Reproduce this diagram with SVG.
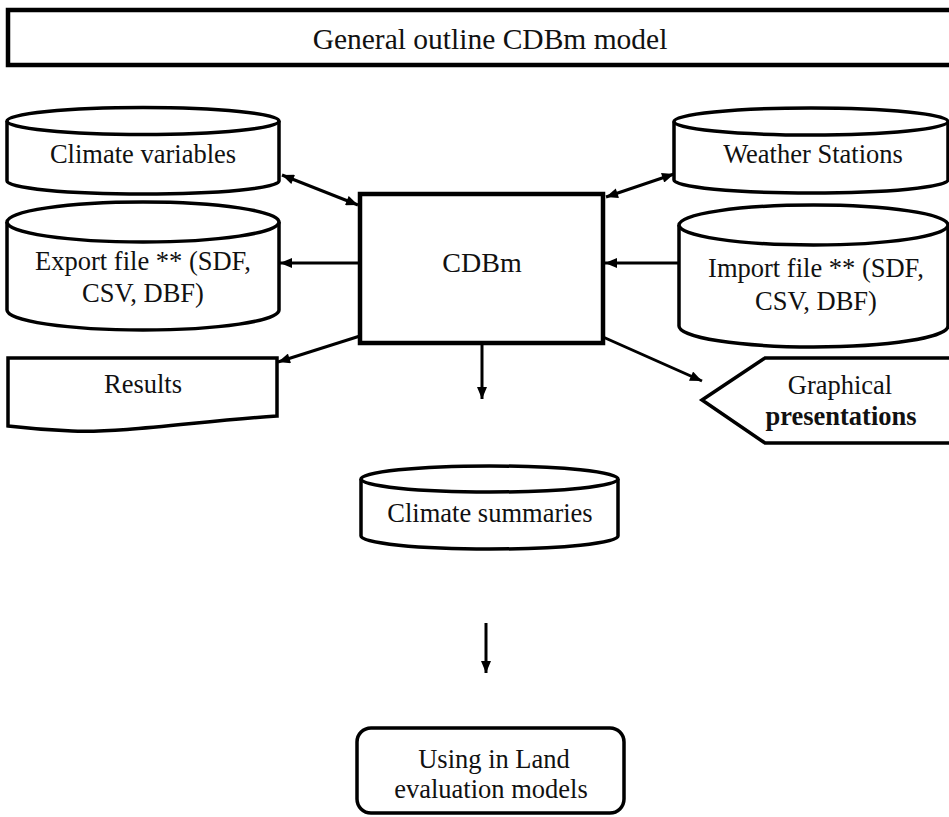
<svg xmlns="http://www.w3.org/2000/svg" width="949" height="817" viewBox="0 0 949 817">
<defs>
<style>
.shape{fill:#fff;stroke:#000;stroke-width:3.5;stroke-linejoin:miter}
.thick{stroke-width:4.5}
.lbl{font-family:"Liberation Serif","Times New Roman",serif;font-size:26.5px;fill:#111;text-anchor:middle}
.title{font-size:29.5px}
.bold{font-weight:bold}
.conn{fill:none;stroke:#000;stroke-width:3}
</style>
<marker id="ah" viewBox="0 0 12 10" refX="12" refY="5" markerWidth="13" markerHeight="10" markerUnits="userSpaceOnUse" orient="auto-start-reverse">
<path d="M0,0 L12,5 L0,10 Z" fill="#000"/>
</marker>
</defs>
<rect width="949" height="817" fill="#fff"/>

<g id="title">
<rect class="shape thick" x="8" y="10" width="960" height="55"/>
<text class="lbl title" x="490" y="49">General outline CDBm model</text>
</g>

<g id="climate-variables">
<path class="shape" d="M7,121 L7,181 A136,13 0 0 0 279,181 L279,121"/>
<ellipse class="shape" cx="143" cy="121" rx="136" ry="13.5"/>
<text class="lbl" x="143" y="163">Climate variables</text>
</g>

<g id="export-file">
<path class="shape" d="M7,222 L7,310 A136,20 0 0 0 279,310 L279,222"/>
<ellipse class="shape" cx="143" cy="222" rx="136" ry="20"/>
<text class="lbl" x="143" y="270">Export file ** (SDF,</text>
<text class="lbl" x="143" y="302">CSV, DBF)</text>
</g>

<g id="weather-stations">
<path class="shape" d="M674,121.5 L674,180 A137,13 0 0 0 948,180 L948,121.5"/>
<ellipse class="shape" cx="811" cy="121.5" rx="137" ry="13.5"/>
<text class="lbl" x="813" y="163">Weather Stations</text>
</g>

<g id="import-file">
<path class="shape" d="M679,225 L679,326 A134.5,21 0 0 0 948,326 L948,225"/>
<ellipse class="shape" cx="813.5" cy="225" rx="134.5" ry="20"/>
<text class="lbl" x="816" y="277">Import file ** (SDF,</text>
<text class="lbl" x="816" y="310">CSV, DBF)</text>
</g>

<g id="cdbm">
<rect class="shape thick" x="360" y="194" width="243" height="149"/>
<text class="lbl" x="482" y="272" style="font-size:28px">CDBm</text>
</g>

<g id="results">
<path class="shape" d="M8,358 H277 V416 C200,421 125,433 72,431 C45,430 25,428 8,426 Z"/>
<text class="lbl" x="143" y="393">Results</text>
</g>

<g id="graphical-presentations">
<polygon class="shape" points="702,400 765,358 960,358 960,443 765,443"/>
<text class="lbl" x="840" y="394">Graphical</text>
<text class="lbl bold" x="841" y="425">presentations</text>
</g>

<g id="climate-summaries">
<path class="shape" d="M361,479 L361,536 A128.5,13 0 0 0 618,536 L618,479"/>
<ellipse class="shape" cx="489.5" cy="479" rx="128.5" ry="13"/>
<text class="lbl" x="490" y="522">Climate summaries</text>
</g>

<g id="land-evaluation">
<rect class="shape" x="357" y="728" width="267" height="85" rx="14" ry="14"/>
<text class="lbl" x="494" y="768">Using in Land</text>
<text class="lbl" x="491" y="798">evaluation models</text>
</g>

<g id="connectors">
<line class="conn" x1="282" y1="175" x2="358" y2="205" marker-start="url(#ah)" marker-end="url(#ah)"/>
<line class="conn" x1="606" y1="197" x2="674" y2="174" marker-start="url(#ah)" marker-end="url(#ah)"/>
<line class="conn" x1="358" y1="263" x2="280" y2="263" marker-end="url(#ah)"/>
<line class="conn" x1="679" y1="263" x2="605" y2="263" marker-end="url(#ah)"/>
<line class="conn" x1="360" y1="336" x2="278" y2="362" marker-end="url(#ah)"/>
<line class="conn" x1="603" y1="337" x2="702" y2="381" marker-end="url(#ah)"/>
<line class="conn" x1="482" y1="343" x2="482" y2="399" marker-end="url(#ah)"/>
<line class="conn" x1="486" y1="623" x2="486" y2="673" marker-end="url(#ah)"/>
</g>
</svg>
